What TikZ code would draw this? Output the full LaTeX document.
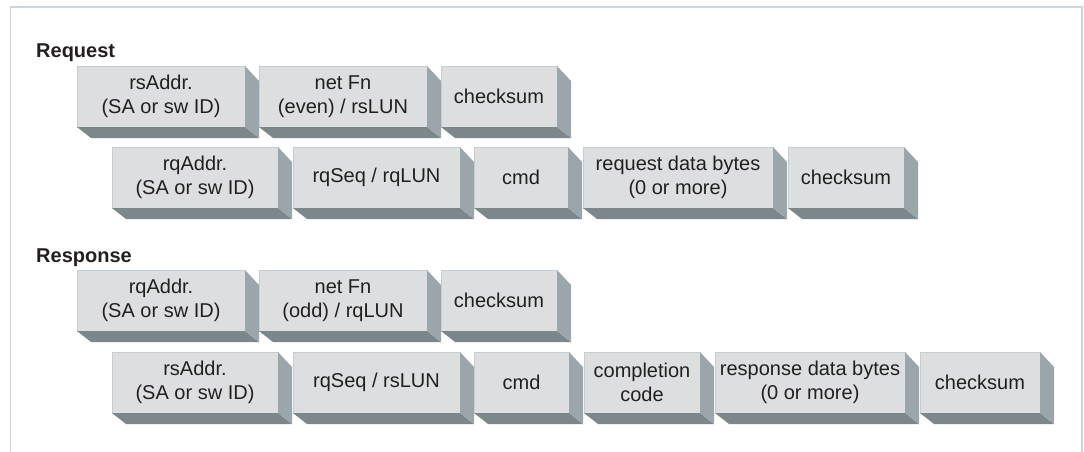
\documentclass[tikz,border=0pt]{standalone}
\usepackage{fontspec}
\setmainfont{Liberation Sans}
\usetikzlibrary{calc}
\definecolor{frontc}{HTML}{DDDEE0}
\definecolor{sidec}{HTML}{9AA6AC}
\definecolor{botc}{HTML}{7C878C}
\definecolor{edgec}{HTML}{C4CDD2}
\definecolor{framec}{HTML}{C9D5DB}
\definecolor{txt}{HTML}{231F20}
\tikzset{
  front/.style={fill=frontc, draw=edgec, line width=0.8pt, inner sep=0pt, outer sep=0pt,
    anchor=north west, minimum height=61pt, align=center,
    font=\fontsize{20}{23.5}\selectfont, text=txt},
  sideface/.style={fill=sidec},
  bottomface/.style={fill=botc},
  heading/.style={anchor=base west, inner sep=0pt, font=\fontsize{20}{24}\selectfont\bfseries, text=txt},
}
\newcommand\pkt[5]{%
  \node[front, minimum width=#4pt] (#1) at (#2,#3) {#5};
  \fill[bottomface] (#1.south west) -- (#1.south east) -- ++(14,11) -- ($(#1.south west)+(14,11)$) -- cycle;
  \fill[sideface] (#1.north east) -- ++(14,15) -- ($(#1.south east)+(14,11)$) -- (#1.south east) -- cycle;
}
\begin{document}
\begin{tikzpicture}[x=1pt,y=-1pt]
\useasboundingbox (0,0) rectangle (1084,451);
\draw[framec, line width=1.5pt] (10.5,452) -- (10.5,7) -- (1082,7) -- (1082,452);

\node[heading] (reqlabel) at (36,57) {Request};
\pkt{a1}{77}{66}{168}{rsAddr.\\(SA or sw ID)}
\pkt{a2}{259}{66}{168}{net Fn\\(even) / rsLUN}
\pkt{a3}{441}{66}{116}{checksum}

\pkt{b1}{112}{147}{166}{rqAddr.\\(SA or sw ID)}
\pkt{b2}{293}{147}{167}{rqSeq / rqLUN}
\pkt{b3}{474}{147}{94}{cmd}
\pkt{b4}{583}{147}{190}{request data bytes\\(0 or more)}
\pkt{b5}{788}{147}{116}{checksum}

\node[heading] (resplabel) at (36,262) {Response};
\pkt{c1}{77}{270}{168}{rqAddr.\\(SA or sw ID)}
\pkt{c2}{259}{270}{168}{net Fn\\(odd) / rqLUN}
\pkt{c3}{441}{270}{116}{checksum}

\pkt{d1}{112}{352}{166}{rsAddr.\\(SA or sw ID)}
\pkt{d2}{293}{352}{167}{rqSeq / rsLUN}
\pkt{d3}{474}{352}{95}{cmd}
\pkt{d4}{584}{352}{116}{completion\\code}
\pkt{d5}{715}{352}{190}{response data bytes\\(0 or more)}
\pkt{d6}{920}{352}{120}{checksum}
\end{tikzpicture}
\end{document}
